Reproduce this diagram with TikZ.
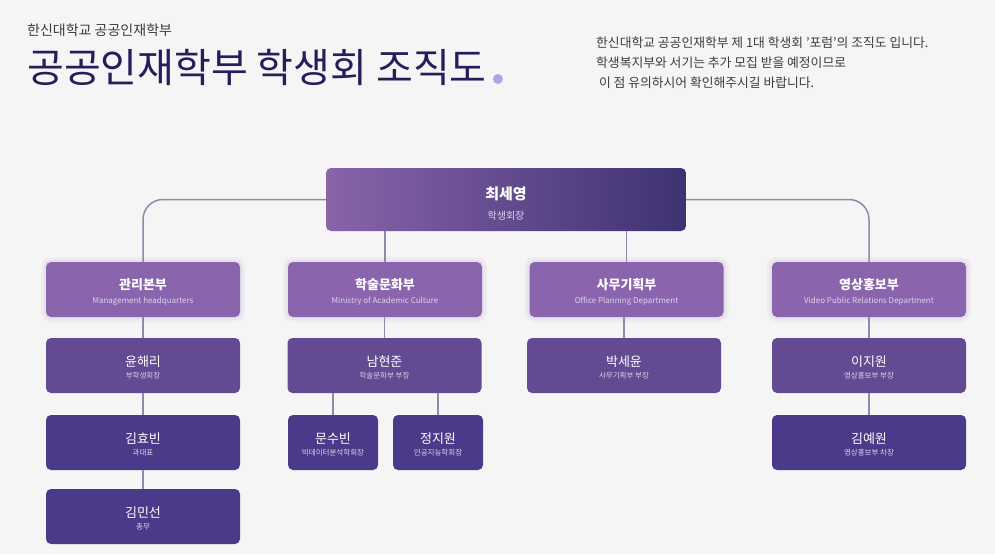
\documentclass[tikz,border=0pt]{standalone}
\usepackage{fontspec}
\setmainfont{Noto Sans CJK KR}

\definecolor{paper}{HTML}{F5F5F5}
\definecolor{titlecol}{HTML}{2A1B5B}
\definecolor{greytext}{HTML}{3C3C3C}
\definecolor{dotcol}{HTML}{B3A2E3}
\definecolor{topleft}{HTML}{8864A9}
\definecolor{topright}{HTML}{3E3272}
\definecolor{deptcol}{HTML}{8B64AE}
\definecolor{leadcol}{HTML}{634A93}
\definecolor{staffcol}{HTML}{4B3A89}
\definecolor{linkcol}{HTML}{9088B0}
\definecolor{rolecol}{HTML}{DDD3EC}

\newcommand{\prole}[1]{{\fontsize{7.5}{9}\selectfont\color{rolecol}#1}}
\newcommand{\deng}[1]{{\mdseries\fontsize{8}{9}\selectfont\color{rolecol}#1}}
\newcommand{\entry}[2]{\rule{0pt}{15pt}#1\\#2}

\begin{document}
\begin{tikzpicture}[x=1pt,y=-1pt,
    box/.style={rounded corners=5pt, text=white, align=center, inner sep=0pt,
        minimum width=194pt, minimum height=55pt},
    dept/.style={box, fill=deptcol, font=\bfseries\fontsize{13}{14}\selectfont,
        preaction={draw=deptcol!6!paper, line width=10pt},
        preaction={draw=deptcol!14!paper, line width=5pt}},
    lead/.style={box, fill=leadcol, font=\fontsize{13}{12.5}\selectfont},
    staff/.style={box, fill=staffcol, font=\fontsize{13}{12.5}\selectfont},
    link/.style={draw=linkcol, line width=1.5pt}]

    \fill[paper] (0,0) rectangle (995,554);
    \useasboundingbox (0,0) rectangle (995,554);

    % heading
    \node[anchor=base west, inner sep=0pt, text=greytext, font=\fontsize{14}{14}\selectfont] (school) at (27,35) {한신대학교 공공인재학부};
    \node[anchor=base west, inner sep=0pt, text=titlecol, font=\fontsize{40}{40}\selectfont] (title) at (27,82) {공공인재학부 학생회 조직도};
    \fill[dotcol] (title.base east) ++(11,-3) circle (5);
    \node[anchor=north west, inner sep=0pt, align=left, text=greytext, font=\fontsize{12.8}{20}\selectfont] (notice) at (596,37)
        {한신대학교 공공인재학부 제 1대 학생회 '포럼'의 조직도 입니다.\\
         학생복지부와 서기는 추가 모집 받을 예정이므로\\
         \ 이 점 유의하시어 확인해주시길 바랍니다.};

    % president
    \node[box, minimum width=360pt, minimum height=63pt, left color=topleft, right color=topright,
        font=\bfseries\fontsize{15}{20}\selectfont] (pres) at (506,199.5)
        {\rule{0pt}{21pt}최세영\\{\mdseries\fontsize{10}{12}\selectfont\color{rolecol}학생회장}};

    % departments
    \node[dept] (d1) at (143,289.5) {\entry{관리본부}{\deng{Management headquarters}}};
    \node[dept] (d2) at (385,289.5) {\entry{학술문화부}{\deng{Ministry of Academic Culture}}};
    \node[dept] (d3) at (626.5,289.5) {\entry{사무기획부}{\deng{Office Planning Department}}};
    \node[dept] (d4) at (869,289.5) {\entry{영상홍보부}{\deng{Video Public Relations Department}}};

    % heads
    \node[lead] (p1) at (143,365.5) {\entry{윤해리}{\prole{부학생회장}}};
    \node[lead] (p2) at (384.5,365.5) {\entry{남현준}{\prole{학술문화부 부장}}};
    \node[lead] (p3) at (624,365.5) {\entry{박세윤}{\prole{사무기획부 부장}}};
    \node[lead] (p4) at (869,365.5) {\entry{이지원}{\prole{영상홍보부 부장}}};

    % members
    \node[staff] (q1) at (143,442.5) {\entry{김효빈}{\prole{과대표}}};
    \node[staff, minimum width=90pt] (q2) at (333,442.5) {\entry{문수빈}{\prole{빅데이터분석학회장}}};
    \node[staff, minimum width=90pt] (q3) at (438,442.5) {\entry{정지원}{\prole{인공지능학회장}}};
    \node[staff] (q4) at (869,442.5) {\entry{김예원}{\prole{영상홍보부 차장}}};
    \node[staff] (r1) at (143,516.5) {\entry{김민선}{\prole{총무}}};

    % connectors
    \draw[link, rounded corners=20pt] (pres.west) -| (d1.north);
    \draw[link, rounded corners=20pt] (pres.east) -| (d4.north);
    \draw[link] (pres.south -| d2) -- (d2.north);
    \draw[link] (pres.south -| d3) -- (d3.north);

    \draw[link] (d1) -- (p1);
    \draw[link] (p1) -- (q1);
    \draw[link] (q1) -- (r1);
    \draw[link] (d2.south -| p2) -- (p2.north);
    \draw[link] (p2.south -| q2) -- (q2.north);
    \draw[link] (p2.south -| q3) -- (q3.north);
    \draw[link] (d3.south -| p3) -- (p3.north);
    \draw[link] (d4) -- (p4);
    \draw[link] (p4) -- (q4);
\end{tikzpicture}
\end{document}
